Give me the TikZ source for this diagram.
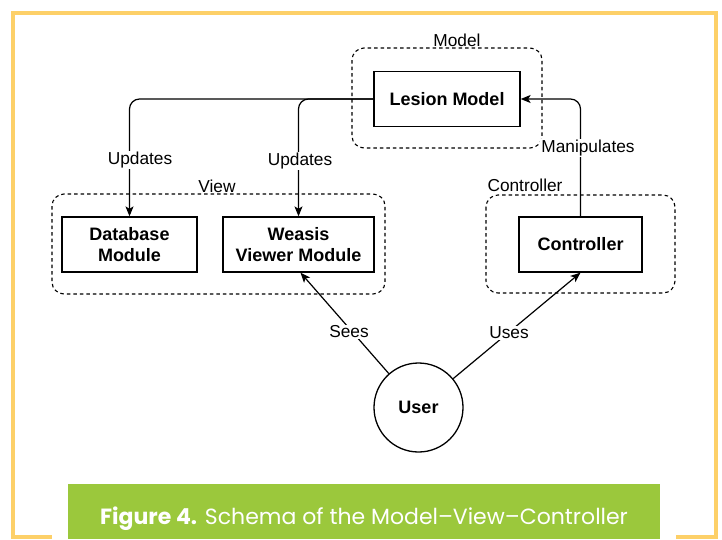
\documentclass[tikz,border=0pt]{standalone}
\usepackage{fontspec}
\setmainfont{Liberation Sans}
\newfontfamily\capfont{Poppins}
\usepackage{tikz}
\usetikzlibrary{positioning, arrows.meta}
\definecolor{framey}{RGB}{253,208,104}
\definecolor{capgreen}{RGB}{155,200,60}
\tikzset{
  box/.style={draw, line width=1.3pt, minimum height=55pt, align=center,
    font=\fontsize{18}{20.5}\selectfont\bfseries},
  group/.style={draw, line width=1.1pt, dash pattern=on 3.5pt off 3pt, rounded corners=12pt},
  lbl/.style={font=\fontsize{17.3}{20}\selectfont, inner sep=1pt},
  arr/.style={-{Stealth[length=10pt,width=8pt,inset=2.5pt]}, line width=1.2pt},
}
\begin{document}
\begin{tikzpicture}[x=1pt, y=-1pt]
  \useasboundingbox (0,0) rectangle (722,539);
  % frame and caption
  \draw[framey, line width=4pt] (13,13) rectangle (716,537);
  \fill[white] (52,470) rectangle (676,545);
  \fill[capgreen] (68,484) rectangle (660,539);
  \node[text=white, font=\capfont\fontsize{22}{26}\selectfont] (caption) at (364,519)
    {\textbf{Figure 4.} Schema of the Model–View–Controller};

  % groups
  \draw[group] (352,48) rectangle (542,148);
  \draw[group] (52,194) rectangle (385,294);
  \draw[group] (486,195) rectangle (675,293);
  \node[lbl] (modellbl) at (457,40) {Model};
  \node[lbl] (viewlbl) at (217,186) {View};
  \node[lbl] (ctrllbl) at (525,185) {Controller};

  % components
  \node[box, minimum width=146pt] (lesion) at (447,99) {Lesion Model};
  \node[box, minimum width=135pt] (db) at (129.5,244.5) {Database\\Module};
  \node[box, minimum width=151pt] (weasis) at (298.5,244.5) {Weasis\\Viewer Module};
  \node[box, minimum width=123pt] (ctrl) at (580.5,244.5) {Controller};
  \node[draw, circle, line width=1.3pt, minimum size=89pt,
    font=\fontsize{18}{20}\selectfont\bfseries] (user) at (418.5,407.5) {User};

  % connectors
  \draw[arr, rounded corners=10pt] (lesion.west) -| (db.north);
  \draw[arr, rounded corners=10pt] (lesion.west) -| (weasis.north);
  \draw[arr, rounded corners=10pt] (ctrl.north) |- (lesion.east);
  \draw[arr] (user) -- ([xshift=2pt]weasis.south);
  \draw[arr] (user) -- (ctrl.south);

  % edge labels
  \node[lbl, fill=white] (upd1) at (140,160) {Updates};
  \node[lbl, fill=white] (upd2) at (300,161) {Updates};
  \node[lbl, fill=white] (manip) at (588,148) {Manipulates};
  \node[lbl, fill=white] (sees) at (349,332) {Sees};
  \node[lbl, fill=white] (uses) at (509,333) {Uses};
\end{tikzpicture}
\end{document}
